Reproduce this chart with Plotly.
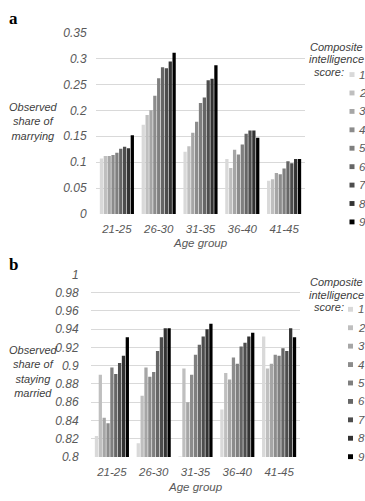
import plotly.graph_objects as go

W, H = 365, 501

age_groups = ["21-25", "26-30", "31-35", "36-40", "41-45"]
scores = ["1", "2", "3", "4", "5", "6", "7", "8", "9"]

# Panel a: observed share of marrying, per age group, scores 1..9
marry_21_25 = [0.107, 0.112, 0.112, 0.114, 0.118, 0.126, 0.130, 0.127, 0.152]
marry_26_30 = [0.172, 0.191, 0.200, 0.228, 0.262, 0.283, 0.281, 0.294, 0.311]
marry_31_35 = [0.120, 0.131, 0.157, 0.178, 0.214, 0.225, 0.258, 0.261, 0.287]
marry_36_40 = [0.106, 0.089, 0.124, 0.115, 0.134, 0.155, 0.161, 0.161, 0.147]
marry_41_45 = [0.064, 0.067, 0.079, 0.077, 0.088, 0.102, 0.098, 0.106, 0.106]

# Panel b: observed share of staying married, per age group, scores 1..9
stay_21_25 = [0.823, 0.890, 0.843, 0.837, 0.898, 0.891, 0.903, 0.911, 0.931]
stay_26_30 = [0.815, 0.867, 0.898, 0.888, 0.893, 0.916, 0.931, 0.941, 0.941]
stay_31_35 = [0.8006, 0.897, 0.860, 0.890, 0.912, 0.923, 0.932, 0.940, 0.946]
stay_36_40 = [0.852, 0.892, 0.885, 0.909, 0.902, 0.921, 0.925, 0.932, 0.936]
stay_41_45 = [0.932, 0.897, 0.902, 0.912, 0.911, 0.919, 0.916, 0.941, 0.931]

yticks_a = [0, 0.05, 0.1, 0.15, 0.2, 0.25, 0.3, 0.35]
yticktext_a = ["0", "0.05", "0.1", "0.15", "0.2", "0.25", "0.3", "0.35"]
yticks_b = [0.8, 0.82, 0.84, 0.86, 0.88, 0.9, 0.92, 0.94, 0.96, 0.98, 1.0]
yticktext_b = ["0.8", "0.82", "0.84", "0.86", "0.88", "0.9", "0.92", "0.94", "0.96", "0.98", "1"]

colors = ["#d9d9d9", "#bfbfbf", "#a6a6a6", "#8c8c8c", "#7f7f7f",
          "#666666", "#4d4d4d", "#333333", "#000000"]

marry_rows = [marry_21_25, marry_26_30, marry_31_35, marry_36_40, marry_41_45]
stay_rows = [stay_21_25, stay_26_30, stay_31_35, stay_36_40, stay_41_45]


def px(x):
    return x / W


def py(y):
    return 1 - y / H


FONT = "Liberation Sans, Arial, sans-serif"
TICK_C = "#595959"
TITLE_C = "#404040"

fig = go.Figure()
for i, s in enumerate(scores):
    fig.add_trace(go.Bar(
        x=age_groups, y=[row[i] for row in marry_rows], name=s,
        marker=dict(color=colors[i], line=dict(width=0)),
        xaxis="x", yaxis="y", showlegend=False))
for i, s in enumerate(scores):
    fig.add_trace(go.Bar(
        x=age_groups, y=[row[i] for row in stay_rows], name=s,
        marker=dict(color=colors[i], line=dict(width=0)),
        xaxis="x2", yaxis="y2", showlegend=False))

tickfont_y = dict(family=FONT, size=12, color=TICK_C, style="italic")
tickfont_x = dict(family=FONT, size=11.5, color=TICK_C, style="italic")

common_y = dict(showgrid=True, gridcolor="#d9d9d9", gridwidth=1, zeroline=False,
                showline=False, ticks="outside", tickcolor="rgba(0,0,0,0)",
                tickfont=tickfont_y, fixedrange=True)
common_x = dict(showgrid=False, zeroline=False, showline=False, ticks="outside",
                ticklen=4, tickcolor="rgba(0,0,0,0)", tickfont=tickfont_x,
                fixedrange=True)

annotations = []
shapes = []


def text_ann(x, y, text, size=11, color=TITLE_C, xanchor="center", family=FONT,
             italic=True, bold=False):
    annotations.append(dict(
        x=px(x), y=py(y), xref="paper", yref="paper", text=text, showarrow=False,
        xanchor=xanchor, yanchor="middle", align="center",
        font=dict(family=family, size=size, color=color,
                  style="italic" if italic else "normal",
                  weight="bold" if bold else "normal")))


# panel letters
text_ann(13, 12, "a", size=17, color="#000000", family="Liberation Serif, Times New Roman, serif",
         italic=False, bold=True)
text_ann(13, 265, "b", size=17, color="#000000", family="Liberation Serif, Times New Roman, serif",
         italic=False, bold=True)

# y-axis titles
text_ann(33, 118, "Observed<br>share of<br>marrying", size=11)
text_ann(33, 375, "Observed<br>share of<br>staying<br>married", size=11)

# x-axis titles
text_ann(200, 243, "Age group", size=11.5, color=TICK_C)
text_ann(195, 494, "Age group", size=11.5, color=TICK_C)


def legend_block(title_y, item_y0, sw_x, txt_x):
    text_ann(336, title_y - 13, "Composite", size=11)
    text_ann(336, title_y, "intelligence", size=11)
    text_ann(346, title_y + 13, "score:", size=11, xanchor="right")
    for i, s in enumerate(scores):
        yc = item_y0 + i * 18.95
        shapes.append(dict(type="rect", xref="paper", yref="paper",
                           x0=px(sw_x), x1=px(sw_x + 5), y0=py(yc + 2.5), y1=py(yc - 2.5),
                           fillcolor=colors[i], line=dict(width=0)))
        text_ann(txt_x, yc, s, size=11.5, color=TICK_C, xanchor="left")


legend_block(54, 69.5, 349.5, 357)
legend_block(296, 311, 348, 356)

fig.update_layout(
    width=W, height=H,
    margin=dict(l=0, r=0, t=0, b=0),
    paper_bgcolor="white", plot_bgcolor="white",
    barmode="group", bargap=0.17, bargroupgap=0.15,
    xaxis=dict(domain=[px(96), px(305)], anchor="y", **common_x),
    yaxis=dict(domain=[py(213), py(26.3)], anchor="x", range=[0, 0.35],
               tickvals=yticks_a, ticktext=yticktext_a, ticklen=6, **common_y),
    xaxis2=dict(domain=[px(91), px(300)], anchor="y2", **common_x),
    yaxis2=dict(domain=[py(463), py(275)], anchor="x2", range=[0.8, 1.0],
                tickvals=yticks_b, ticktext=yticktext_b, ticklen=9, **common_y),
    annotations=annotations, shapes=shapes,
    showlegend=False,
)

fig.write_html(
    "out.html",
    config={"displayModeBar": False},
    post_script="document.body.style.margin='0';document.body.style.overflow='hidden';",
)
